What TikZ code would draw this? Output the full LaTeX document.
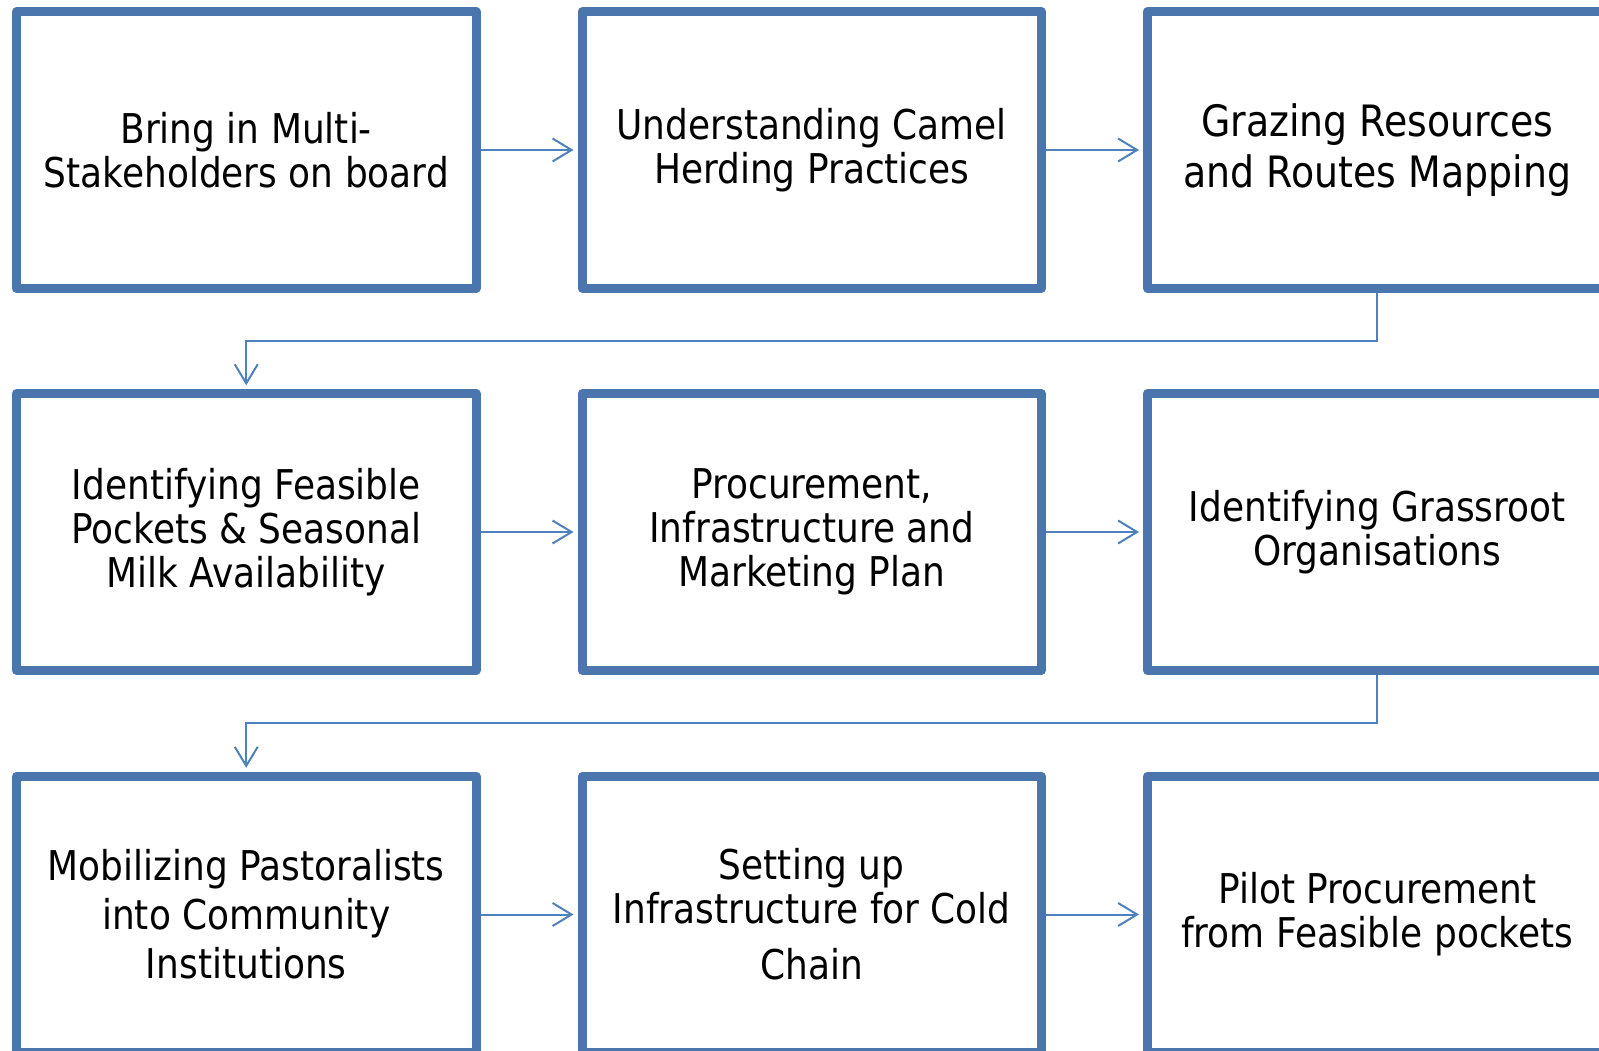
\documentclass[tikz,border=0pt]{standalone}
\usepackage{fontspec}
\setmainfont{DejaVu Sans}[FakeStretch=0.876]
\usetikzlibrary{arrows.meta}
\definecolor{boxblue}{HTML}{4A76AD}
\definecolor{lineblue}{HTML}{4F81BD}
\begin{document}
\begin{tikzpicture}[every node/.style={rectangle, draw=boxblue, line width=0.09cm, line join=round, minimum width=4.595cm, minimum height=2.765cm, inner sep=0pt, align=center, font=\fontsize{11.67}{12.5}\selectfont},
  link/.style={draw=lineblue, line width=0.02cm, -{Straight Barb[length=0.19cm,width=0.23cm]}, shorten >=0.04cm}]
      \path[fill=white, use as bounding box] (0,0) rectangle (15.99,-10.51);
      \node (1) at (2.4625,-1.50) {Bring in Multi-\\Stakeholders on board};
      \node (2) at (8.1175,-1.50) {Understanding Camel\\Herding Practices};
      \node (3) at (13.7725,-1.50) [font=\fontsize{12.3}{14.5}\selectfont] {Grazing Resources\\and Routes Mapping};
      \node (4) at (2.4625,-5.32) {Identifying Feasible\\Pockets \& Seasonal\\Milk Availability};
      \node (5) at (8.1175,-5.32) {Procurement,\\Infrastructure and\\Marketing Plan};
      \node (6) at (13.7725,-5.32) {Identifying Grassroot\\Organisations};
      \node (7) at (2.4625,-9.145) [font=\fontsize{11.67}{13.9}\selectfont] {Mobilizing Pastoralists\\into Community\\Institutions};
      \node (8) at (8.1175,-9.145) {Setting up\\Infrastructure for Cold\\[3.4pt]Chain};
      \node (9) at (13.7725,-9.145) {Pilot Procurement\\from Feasible pockets};
      \foreach \source/\dest in {1/2, 2/3, 4/5, 5/6, 7/8, 8/9}
        \path[link] (\source) edge (\dest);
      \draw[link] (3.south) -- ++(0,-0.48) -| (4.north);
      \draw[link] (6.south) -- ++(0,-0.48) -| (7.north);
    \end{tikzpicture}
\end{document}
